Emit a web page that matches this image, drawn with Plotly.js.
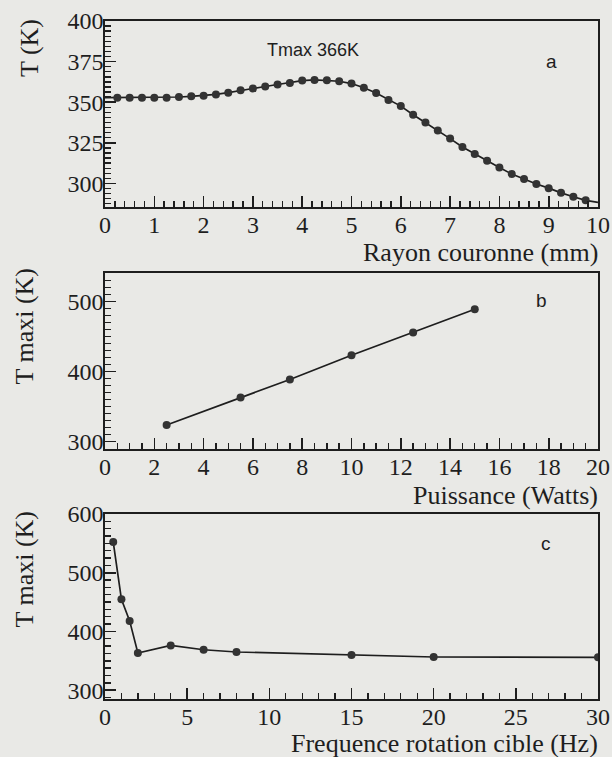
<!DOCTYPE html>
<html>
<head>
<meta charset="utf-8">
<script src="https://cdn.plot.ly/plotly-3.0.1.min.js"></script>
<style>
html,body{margin:0;padding:0;background:#e9e9e6;}
#chart{width:612px;height:757px;}
</style>
</head>
<body>
<div id="chart"></div>
<script>
// ---- Panel a : temperature vs crown radius ----
const rayonX = [0.25,0.5,0.75,1.0,1.25,1.5,1.75,2.0,2.25,2.5,2.75,3.0,3.25,3.5,3.75,4.0,4.25,4.5,4.75,5.0,5.25,5.5,5.75,6.0,6.25,6.5,6.75,7.0,7.25,7.5,7.75,8.0,8.25,8.5,8.75,9.0,9.25,9.5,9.75];
const tempA = [352.8,352.8,352.8,352.8,352.8,353.2,353.6,354.0,354.8,355.9,357.3,358.5,359.7,360.9,361.9,363.3,363.7,363.5,362.9,361.5,358.9,355.7,351.4,347.6,342.3,337.5,332.6,327.6,322.5,318.1,314.0,309.8,305.8,302.7,299.7,297.1,294.2,291.8,289.6];
const rayonEdgeX = [0, 10];
const tempEdge = [352.8, 288.4];

// ---- Panel b : max temperature vs power ----
const puissance = [2.5, 5.5, 7.5, 10, 12.5, 15];
const tmaxB = [323.3, 362.9, 388.6, 423.3, 455.7, 489.0];

// ---- Panel c : max temperature vs target rotation frequency ----
const frequence = [0.5, 1, 1.5, 2, 4, 6, 8, 15, 20, 30];
const tmaxC = [552.5, 454.8, 418.0, 363.3, 376.3, 368.9, 365.0, 359.9, 356.5, 356.0];

// tick labels
const ticksA = [300, 325, 350, 375, 400];
const ticksBC = [300, 400, 500, 600];

const W = 612, H = 757;
const ink = '#1e1e1e';
const serif = 'Liberation Serif, Times New Roman, serif';
const sans = 'Liberation Sans, Arial, sans-serif';

const lineAX = [rayonEdgeX[0]].concat(rayonX, [rayonEdgeX[1]]);
const lineAY = [tempEdge[0]].concat(tempA, [tempEdge[1]]);

const marker = {symbol:'circle', size:8, color:'#333', line:{width:0}};
const data = [
  {x: lineAX, y: lineAY, mode:'lines', line:{color:ink, width:1.7}, xaxis:'x', yaxis:'y', hoverinfo:'skip'},
  {x: rayonX, y: tempA, mode:'markers', marker: marker, xaxis:'x', yaxis:'y'},
  {x: puissance, y: tmaxB, mode:'lines+markers', line:{color:ink, width:1.7}, marker: marker, xaxis:'x2', yaxis:'y2'},
  {x: frequence, y: tmaxC, mode:'lines+markers', line:{color:ink, width:1.7}, marker: marker, xaxis:'x3', yaxis:'y3'}
];

function px2x(p){ return p / W; }
function px2y(p){ return 1 - p / H; }

const xDom = [px2x(105), px2x(598)];
function axis(extra){
  return Object.assign({
    showline:true, linecolor:ink, linewidth:1.8, mirror:true,
    ticks:'inside', ticklen:11, tickwidth:1.6, tickcolor:ink,
    showgrid:false, zeroline:false, fixedrange:true,
    tickfont:{family:serif, size:24, color:ink},
    ticklabelstandoff: -5
  }, extra);
}
function minor(d, t0){
  return {ticks:'inside', ticklen:6, tickwidth:1.4, tickcolor:ink, dtick:d, tick0:t0, showgrid:false};
}

const layout = {
  width: W, height: H,
  margin:{l:0, r:0, t:0, b:0},
  paper_bgcolor:'#e9e9e6', plot_bgcolor:'#e9e9e6',
  showlegend:false,
  xaxis: axis({domain:xDom, anchor:'y', range:[0,10], tickmode:'linear', tick0:0, dtick:1, minor:minor(0.2, 0)}),
  yaxis: axis({domain:[px2y(207), px2y(21)], anchor:'x', range:[285.5,400], tickmode:'linear', tick0:ticksA[0], dtick:ticksA[1]-ticksA[0], minor:minor(3.125, 300)}),
  xaxis2: axis({domain:xDom, anchor:'y2', range:[0,20], tickmode:'linear', tick0:0, dtick:2, minor:minor(0.5, 0)}),
  yaxis2: axis({domain:[px2y(449), px2y(273)], anchor:'x2', range:[289,541], tickmode:'linear', tick0:ticksBC[0], dtick:ticksBC[1]-ticksBC[0], minor:minor(10, 300)}),
  xaxis3: axis({domain:xDom, anchor:'y3', range:[0,30], tickmode:'linear', tick0:0, dtick:5, minor:minor(1, 0)}),
  yaxis3: axis({domain:[px2y(699), px2y(514)], anchor:'x3', range:[285,600], tickmode:'linear', tick0:ticksBC[0], dtick:ticksBC[1]-ticksBC[0], minor:minor(12.5, 300)}),
  annotations: [
    {text:'Rayon couronne (mm)', xref:'paper', yref:'paper', x:px2x(600), y:px2y(252), xanchor:'right', yanchor:'middle', showarrow:false, font:{family:serif, size:26, color:ink}},
    {text:'Puissance (Watts)', xref:'paper', yref:'paper', x:px2x(600), y:px2y(495), xanchor:'right', yanchor:'middle', showarrow:false, font:{family:serif, size:26, color:ink}},
    {text:'Frequence rotation cible (Hz)', xref:'paper', yref:'paper', x:px2x(600), y:px2y(743), xanchor:'right', yanchor:'middle', showarrow:false, font:{family:serif, size:26, color:ink}},
    {text:'T (K)', textangle:-90, xref:'paper', yref:'paper', x:px2x(29), y:px2y(17), xanchor:'center', yanchor:'top', showarrow:false, font:{family:serif, size:26, color:ink}},
    {text:'T maxi (K)', textangle:-90, xref:'paper', yref:'paper', x:px2x(24), y:px2y(266), xanchor:'center', yanchor:'top', showarrow:false, font:{family:serif, size:26, color:ink}},
    {text:'T maxi (K)', textangle:-90, xref:'paper', yref:'paper', x:px2x(24), y:px2y(509), xanchor:'center', yanchor:'top', showarrow:false, font:{family:serif, size:26, color:ink}},
    {text:'Tmax 366K', xref:'paper', yref:'paper', x:px2x(313), y:px2y(50), xanchor:'center', yanchor:'middle', showarrow:false, font:{family:sans, size:18, color:ink}},
    {text:'a', xref:'paper', yref:'paper', x:px2x(551), y:px2y(61), xanchor:'center', yanchor:'middle', showarrow:false, font:{family:sans, size:19, color:ink}},
    {text:'b', xref:'paper', yref:'paper', x:px2x(541), y:px2y(300), xanchor:'center', yanchor:'middle', showarrow:false, font:{family:sans, size:19, color:ink}},
    {text:'c', xref:'paper', yref:'paper', x:px2x(546), y:px2y(543), xanchor:'center', yanchor:'middle', showarrow:false, font:{family:sans, size:19, color:ink}}
  ]
};

Plotly.newPlot('chart', data, layout, {displayModeBar:false, staticPlot:true});
</script>
</body>
</html>
